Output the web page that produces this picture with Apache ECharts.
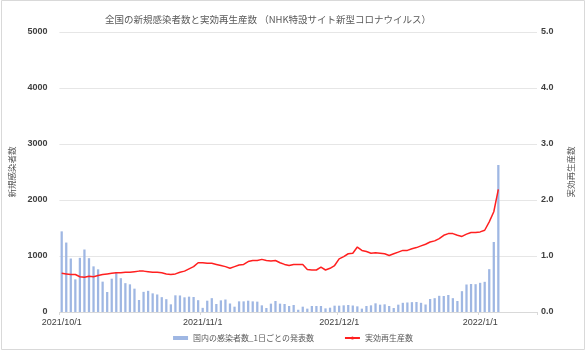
<!DOCTYPE html>
<html><head><meta charset="utf-8">
<script src="https://cdn.jsdelivr.net/npm/echarts@6/dist/echarts.min.js"></script>
<style>html,body{margin:0;padding:0;background:#fff}#c{width:586px;height:352px}</style>
</head><body><div id="c"></div>
<script>
// Categories: daily dates 2021/10/1 .. 2022/1/13
const startDate = [2021, 10, 1];
const dayCount = 105;
const categories = [];
(function(){
  const d = new Date(startDate[0], startDate[1]-1, startDate[2]);
  for (let i = 0; i < dayCount; i++) {
    categories.push(d.getFullYear() + '/' + (d.getMonth()+1) + '/' + d.getDate());
    d.setDate(d.getDate()+1);
  }
})();
const labelDates = ['2021/10/1', '2021/11/1', '2021/12/1', '2022/1/1'];

const casesName = '国内の感染者数_1日ごとの発表数';
const rName = '実効再生産数';

const cases = [
  1440, 1240, 955, 583, 967, 1116, 961, 815, 762, 542,
  357, 595, 714, 604, 515, 494, 417, 214, 360, 378,
  333, 313, 265, 229, 137, 298, 295, 262, 274, 268,
  211, 74, 202, 247, 143, 208, 223, 152, 95, 190,
  190, 202, 190, 185, 119, 71, 149, 196, 149, 143,
  107, 125, 40, 95, 60, 107, 107, 107, 65, 77,
  113, 113, 119, 125, 116, 101, 60, 107, 119, 155,
  131, 137, 107, 71, 131, 164, 170, 176, 179, 164,
  134, 232, 247, 289, 286, 304, 247, 196, 372, 491,
  500, 497, 521, 539, 765, 1250, 2625
];
const rValues = [
  0.69, 0.68, 0.67, 0.67, 0.63, 0.62, 0.64, 0.63, 0.65, 0.67,
  0.68, 0.69, 0.70, 0.70, 0.71, 0.71, 0.72, 0.73, 0.73, 0.72,
  0.71, 0.71, 0.70, 0.68, 0.67, 0.68, 0.71, 0.73, 0.77, 0.81,
  0.88, 0.88, 0.87, 0.87, 0.85, 0.83, 0.81, 0.78, 0.81, 0.84,
  0.85, 0.90, 0.92, 0.92, 0.94, 0.92, 0.91, 0.92, 0.88, 0.85,
  0.83, 0.85, 0.85, 0.85, 0.76, 0.75, 0.75, 0.80, 0.75, 0.78,
  0.83, 0.95, 0.99, 1.04, 1.05, 1.16, 1.10, 1.08, 1.05, 1.06,
  1.05, 1.04, 1.01, 1.04, 1.07, 1.10, 1.10, 1.13, 1.15, 1.18,
  1.21, 1.25, 1.27, 1.31, 1.37, 1.40, 1.40, 1.37, 1.35, 1.39,
  1.42, 1.42, 1.43, 1.46, 1.61, 1.79, 2.19
];

const FONT = '"Noto Sans CJK JP", "Noto Sans", sans-serif';
const NUMFONT = '"Liberation Sans", Arial, sans-serif';
const chart = echarts.init(document.getElementById('c'), null, {renderer: 'canvas'});
chart.setOption({
  animation: false,
  textStyle: {fontFamily: FONT},
  graphic: [{
    type: 'rect', shape: {x: 1.5, y: 0.5, width: 583, height: 349},
    style: {fill: 'none', stroke: '#d9d9d9', lineWidth: 1}, silent: true, z: -10
  }],
  title: {
    text: '全国の新規感染者数と実効再生産数 （NHK特設サイト新型コロナウイルス）',
    left: 100, top: 10,
    textStyle: {fontSize: 9.5, fontWeight: 'normal', color: '#595959', fontFamily: FONT}
  },
  legend: {
    bottom: 5, left: 'center', itemGap: 30,
    textStyle: {fontSize: 8, color: '#595959', fontFamily: FONT},
    data: [
      {name: casesName, icon: 'rect', itemStyle: {color: '#9fb7e3'}},
      {name: rName}
    ],
    itemWidth: 15, itemHeight: 4
  },
  grid: {left: 57, right: 49, top: 32, bottom: 40},
  xAxis: {
    type: 'category', data: categories, boundaryGap: true,
    axisLine: {lineStyle: {color: '#d9d9d9'}},
    axisTick: {show: true, length: 3, lineStyle: {color: '#d9d9d9'},
      interval: function(i, v){ return labelDates.indexOf(v) >= 0; }},
    axisLabel: {
      interval: function(i, v){ return labelDates.indexOf(v) >= 0; },
      fontSize: 9, color: '#404040', margin: 6, fontFamily: NUMFONT
    }
  },
  yAxis: [{
    type: 'value', min: 0, max: 5000, interval: 1000,
    name: '新規感染者数', nameLocation: 'middle', nameGap: 40, nameRotate: 90,
    nameTextStyle: {fontSize: 8.5, color: '#595959'},
    axisLine: {show: false}, axisTick: {show: false},
    axisLabel: {fontSize: 9, fontWeight: 'bold', color: '#404040', margin: 12, fontFamily: NUMFONT,
      formatter: function(v){ return String(v); }},
    splitLine: {lineStyle: {color: '#e6e6e6'}}
  }, {
    type: 'value', min: 0, max: 5, interval: 1, position: 'right',
    name: '実効再生産数', nameLocation: 'middle', nameGap: 30, nameRotate: 90,
    nameTextStyle: {fontSize: 8.5, color: '#595959'},
    axisLine: {show: false}, axisTick: {show: false},
    axisLabel: {fontSize: 9, fontWeight: 'bold', color: '#404040', margin: 4,
      formatter: function(v){ return v.toFixed(1); }, fontFamily: NUMFONT},
    splitLine: {show: false}
  }],
  series: [{
    name: casesName, type: 'bar', data: cases, yAxisIndex: 0,
    barWidth: '50%', itemStyle: {color: '#9fb7e3'}
  }, {
    name: rName, type: 'line', data: rValues, yAxisIndex: 1,
    symbol: 'none', smooth: false,
    lineStyle: {color: '#ff2020', width: 1.5}, itemStyle: {color: '#ff2020'}
  }]
});
</script></body></html>
